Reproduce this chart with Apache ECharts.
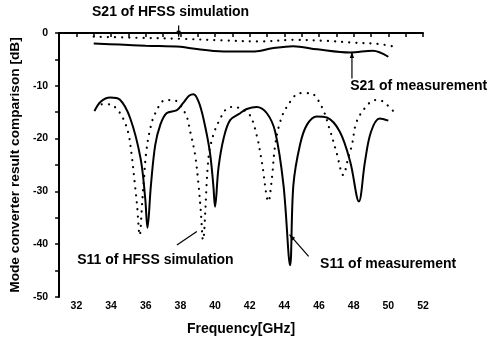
<!DOCTYPE html>
<html>
<head>
<meta charset="utf-8">
<script src="https://cdn.jsdelivr.net/npm/echarts@6/dist/echarts.min.js"></script>
<style>
  html, body { margin: 0; padding: 0; background: #fff; }
  #chart { width: 496px; height: 343px; }
</style>
</head>
<body>
<div id="chart"></div>
<script>
// Frequency [GHz] / level [dB] pairs for each trace
const s21Measured = [
  [33.0, -2.0], [34.5, -2.2], [36.0, -2.4], [38.0, -2.6], [38.6, -2.9], [40.5, -3.5],
  [42.3, -3.5], [43.3, -2.9], [44.5, -2.5], [45.9, -3.1], [47.8, -3.7],
  [49.1, -3.35], [50.0, -4.5]
];
const s21Simulated = [
  [33.0, -0.7], [35.5, -0.9], [38.0, -1.1], [40.5, -1.4], [42.6, -1.6], [44.5, -1.3],
  [46.5, -1.5], [47.8, -1.8], [49.5, -2.1], [50.5, -2.7]
];
const s11Measured = [
  [33.04, -14.8], [33.4, -13.0], [33.95, -12.2], [34.5, -12.6], [35.1, -16.1], [35.7, -23.7],
  [35.97, -31.3], [36.1, -36.9], [36.3, -28.8], [36.55, -21.2], [36.84, -17.4],
  [37.2, -15.2], [37.8, -14.6], [38.15, -13.3], [38.5, -11.9], [38.76, -11.6], [39.05, -13.0],
  [39.33, -16.2], [39.7, -22.5], [39.9, -28.8], [40.0, -32.9], [40.2, -25.5], [40.5, -19.9],
  [40.87, -16.5], [41.45, -15.2], [41.83, -14.4], [42.4, -14.0], [42.99, -15.2],
  [43.47, -18.7], [43.95, -28.8], [44.33, -44.0], [44.52, -28.8], [44.9, -21.2],
  [45.3, -17.4], [45.87, -15.8], [46.45, -16.0], [47.2, -18.7], [47.8, -24.4],
  [48.3, -31.9], [48.65, -24.4], [49.0, -18.7], [49.5, -16.2], [50.0, -16.6]
];
const s11Simulated = [
  [33.46, -13.5], [33.95, -13.5], [34.38, -14.6], [34.7, -16.2], [35.0, -19.0],
  [35.2, -23.4], [35.36, -28.2], [35.5, -32.6], [35.65, -38.3], [35.8, -31.9],
  [35.9, -27.5], [36.03, -22.5], [36.26, -18.1], [36.55, -15.2], [37.13, -12.7],
  [37.6, -12.7], [38.28, -15.2], [38.57, -18.7], [38.85, -23.1], [39.05, -28.8],
  [39.18, -33.8], [39.3, -39.2], [39.62, -23.7], [39.9, -19.3], [40.3, -16.2],
  [40.68, -14.3], [41.06, -14.0], [41.45, -14.3], [42.0, -15.5], [42.4, -19.3],
  [42.7, -24.4], [43.08, -31.9], [43.28, -27.5], [43.47, -21.2], [43.76, -16.8],
  [44.14, -14.0], [44.9, -11.4], [45.5, -11.4], [46.16, -14.0], [46.6, -18.1],
  [47.0, -22.5], [47.4, -26.9], [47.68, -23.7], [47.9, -21.2], [48.17, -16.8],
  [48.75, -13.8], [49.23, -12.7], [49.7, -13.0], [50.48, -15.5]
];

// Callout labels: text, left anchor [GHz, dB], arrow start and end [GHz, dB]
const callouts = [
  { text: 'S21 of HFSS simulation', at: [32.9, 4.0], from: [37.9, 1.4], to: [37.9, -0.7], head: true },
  { text: 'S21 of measurement', at: [47.8, -10.0], from: [47.9, -8.6], to: [47.9, -3.6], head: true },
  { text: 'S11 of HFSS simulation', at: [32.05, -43.0], from: [37.8, -40.15], to: [38.95, -37.6], head: false },
  { text: 'S11 of measurement', at: [46.06, -43.7], from: [45.4, -42.3], to: [44.3, -38.2], head: true }
];

const xTicks = [32, 34, 36, 38, 40, 42, 44, 46, 48, 50, 52];

const FONT = 'Liberation Sans, Arial, sans-serif';
const chart = echarts.init(document.getElementById('chart'), null, { renderer: 'canvas' });

const lineBase = { type: 'line', symbol: 'none', smooth: 0.35, z: 3 };
const dotted = { color: '#000', width: 2.2, type: [0.1, 7], cap: 'round' };

chart.setOption({
  animation: false,
  backgroundColor: '#fff',
  grid: { left: 59, right: 73, top: 33, bottom: 46, containLabel: false },
  xAxis: {
    type: 'value', min: 31, max: 52, interval: 1,
    axisLine: { lineStyle: { color: '#000', width: 2 } },
    axisTick: { show: true, inside: false, length: 4, lineStyle: { color: '#000', width: 1.5 } },
    axisLabel: {
      color: '#000', fontFamily: FONT, fontWeight: 'bold', fontSize: 10.5, margin: 4,
      formatter: v => (xTicks.indexOf(v) >= 0 ? String(v) : '')
    },
    splitLine: { show: false },
    name: 'Frequency[GHz]', nameLocation: 'middle', nameGap: 25,
    nameTextStyle: { color: '#000', fontFamily: FONT, fontWeight: 'bold', fontSize: 14 }
  },
  yAxis: {
    type: 'value', min: -50, max: 0, interval: 5,
    axisLine: { lineStyle: { color: '#000', width: 2 } },
    axisTick: { show: true, inside: false, length: 4, lineStyle: { color: '#000', width: 1.5 } },
    axisLabel: {
      color: '#000', fontFamily: FONT, fontWeight: 'bold', fontSize: 10.5, margin: 11,
      formatter: v => (v % 10 === 0 ? String(v) : '')
    },
    splitLine: { show: false },
    name: 'Mode converter result comparison [dB]', nameLocation: 'middle', nameGap: 33,
    nameTextStyle: { color: '#000', fontFamily: FONT, fontWeight: 'bold', fontSize: 13.7 }
  },
  series: [
    Object.assign({}, lineBase, { name: 'S21 measurement', data: s21Measured,
      lineStyle: { color: '#000', width: 2 } }),
    Object.assign({}, lineBase, { name: 'S21 HFSS', data: s21Simulated, lineStyle: dotted }),
    Object.assign({}, lineBase, { name: 'S11 measurement', data: s11Measured,
      lineStyle: { color: '#000', width: 2 } }),
    Object.assign({}, lineBase, { name: 'S11 HFSS', data: s11Simulated, lineStyle: dotted })
  ]
});

// Callout texts and arrows placed in data coordinates
function drawCallouts() {
  const els = [];
  callouts.forEach(c => {
    const p = chart.convertToPixel({ gridIndex: 0 }, c.at);
    const a = chart.convertToPixel({ gridIndex: 0 }, c.from);
    const b = chart.convertToPixel({ gridIndex: 0 }, c.to);
    els.push({
      type: 'text', x: p[0], y: p[1], z: 10,
      style: { text: c.text, fill: '#000', font: 'bold 14px ' + FONT, textAlign: 'left', textVerticalAlign: 'middle' }
    });
    els.push({
      type: 'line', z: 10,
      shape: { x1: a[0], y1: a[1], x2: b[0], y2: b[1] },
      style: { stroke: '#000', lineWidth: 1.2 }
    });
    if (c.head) {
      const ang = Math.atan2(b[1] - a[1], b[0] - a[0]);
      const L = 6, W = 2.2;
      const bx = b[0] - L * Math.cos(ang), by = b[1] - L * Math.sin(ang);
      els.push({
        type: 'polygon', z: 10,
        shape: { points: [
          [b[0], b[1]],
          [bx + W * Math.sin(ang), by - W * Math.cos(ang)],
          [bx - W * Math.sin(ang), by + W * Math.cos(ang)]
        ] },
        style: { fill: '#000' }
      });
    }
  });
  chart.setOption({ graphic: els });
}
drawCallouts();
</script>
</body>
</html>
